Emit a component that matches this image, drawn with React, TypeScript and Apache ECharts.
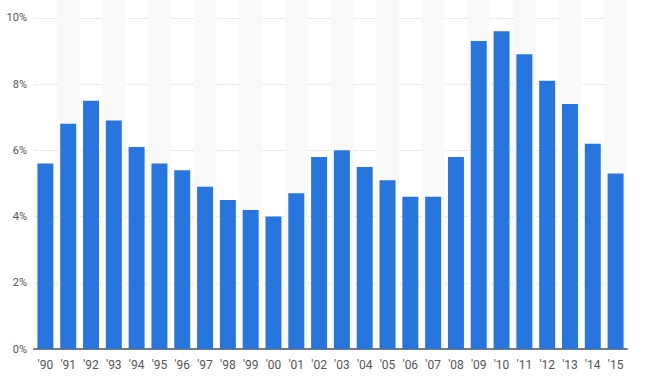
import React, { useEffect, useRef } from "react";
import * as echarts from "echarts";

const categories = ["'90","'91","'92","'93","'94","'95","'96","'97","'98","'99","'00","'01","'02","'03","'04","'05","'06","'07","'08","'09","'10","'11","'12","'13","'14","'15"];
const values = [5.6,6.8,7.5,6.9,6.1,5.6,5.4,4.9,4.5,4.2,4.0,4.7,5.8,6.0,5.5,5.1,4.6,4.6,5.8,9.3,9.6,8.9,8.1,7.4,6.2,5.3];

export default function App() {
  const ref = useRef<HTMLDivElement>(null);
  useEffect(() => {
    if (!ref.current) return;
    const chart = echarts.init(ref.current, null, { renderer: "svg" });
    chart.setOption({
      animation: false,
      grid: { left: 34, right: 26, top: 0, bottom: 36 },
      xAxis: {
        type: "category",
        data: categories,
        axisTick: { show: false },
        axisLine: { show: true, lineStyle: { color: "#7a7a7a", width: 2 } },
        axisLabel: { color: "#555", fontSize: 12, fontFamily: "Roboto, sans-serif", margin: 10 },
        splitArea: { show: true, areaStyle: { color: ["rgba(255,255,255,0)", "#f9f9f9"] } },
      },
      yAxis: {
        type: "value",
        min: 0,
        max: 10.54,
        interval: 2,
        axisLine: { show: false },
        axisTick: { show: false },
        axisLabel: {
          color: "#555",
          fontSize: 11,
          fontFamily: "Roboto, sans-serif",
          margin: 7,
          showMaxLabel: false,
          formatter: (v: number) => (Number.isInteger(v) ? v + "%" : ""),
        },
        splitLine: { show: true, showMaxLine: false, lineStyle: { color: "#d8d8d8", type: [1, 1], width: 1 } },
      },
      series: [
        {
          type: "bar",
          data: values,
          barCategoryGap: "30%",
          itemStyle: { color: "#2876dd" },
        },
      ],
    });
    return () => chart.dispose();
  }, []);
  return <div ref={ref} style={{ width: 653, height: 385, position: "absolute", left: 0, top: 0 }} />;
}
